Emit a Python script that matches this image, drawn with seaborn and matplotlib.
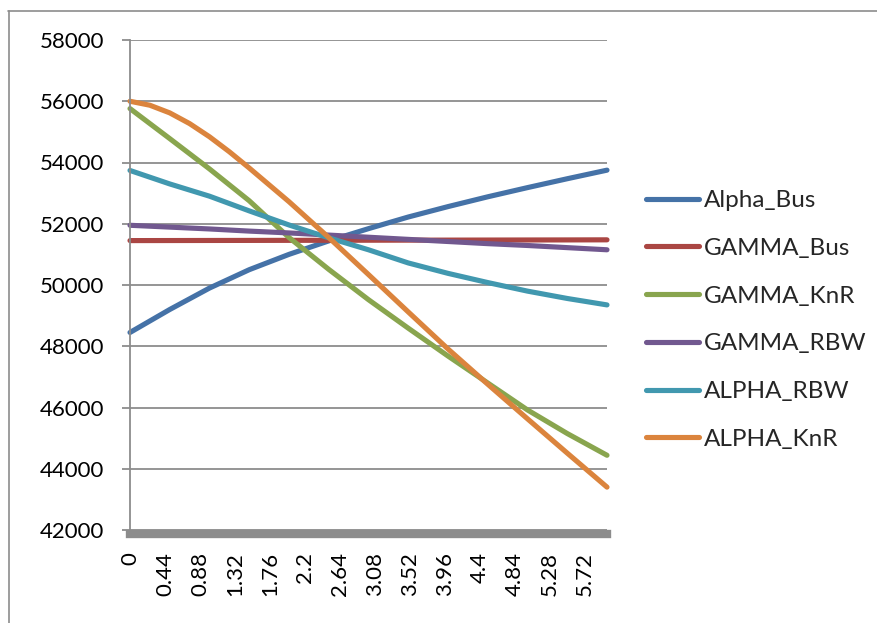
import matplotlib
matplotlib.use("Agg")
import matplotlib.pyplot as plt
import seaborn as sns
import pandas as pd
from matplotlib.lines import Line2D

# ---- data ----
x_values = [0.0, 0.5, 1.0, 1.5, 2.0, 2.5, 3.0, 3.5, 4.0, 4.5, 5.0, 5.5, 6.0]
alpha_bus = [48450, 49200, 49900, 50500, 51000, 51440, 51840, 52220, 52560, 52880, 53180, 53470, 53750]
gamma_bus = [51450, 51452, 51454, 51456, 51458, 51460, 51462, 51464, 51466, 51468, 51470, 51472, 51475]
gamma_knr = [55760, 54780, 53790, 52750, 51550, 50510, 49520, 48590, 47680, 46800, 45920, 45150, 44440]
gamma_rbw = [51950, 51890, 51830, 51760, 51700, 51630, 51560, 51490, 51420, 51350, 51290, 51220, 51150]
alpha_rbw = [53740, 53300, 52900, 52420, 51960, 51540, 51150, 50720, 50380, 50080, 49800, 49560, 49350]
alpha_knr_x = [0.0, 0.25, 0.5, 0.75, 1.0, 1.25, 1.5, 2.0, 2.5, 3.0, 3.5, 4.0, 4.5, 5.0, 5.5, 6.0]
alpha_knr = [56000, 55870, 55620, 55270, 54840, 54350, 53820, 52720, 51550, 50340, 49120, 47910,
             46760, 45630, 44510, 43400]

series_names = ["Alpha_Bus", "GAMMA_Bus", "GAMMA_KnR", "GAMMA_RBW", "ALPHA_RBW", "ALPHA_KnR"]
series_colors = ["#4572A7", "#AA4643", "#89A54E", "#71588F", "#4198AF", "#DB843D"]

x_tick_positions = [0, 0.44, 0.88, 1.32, 1.76, 2.2, 2.64, 3.08, 3.52, 3.96, 4.4, 4.84, 5.28, 5.72]
x_tick_labels = ["0", "0.44", "0.88", "1.32", "1.76", "2.2", "2.64", "3.08", "3.52", "3.96",
                 "4.4", "4.84", "5.28", "5.72"]
y_ticks = [42000, 44000, 46000, 48000, 50000, 52000, 54000, 56000, 58000]

# ---- long-form table ----
all_series = [
    (x_values, alpha_bus), (x_values, gamma_bus), (x_values, gamma_knr),
    (x_values, gamma_rbw), (x_values, alpha_rbw), (alpha_knr_x, alpha_knr),
]
rows = []
for name, (xs, vals) in zip(series_names, all_series):
    for xv, yv in zip(xs, vals):
        rows.append({"x": xv, "value": yv, "series": name})
df = pd.DataFrame(rows)

sns.set_style("white")
plt.rcParams["font.family"] = ["Lato", "DejaVu Sans"]

W, H = 878, 623
fig = plt.figure(figsize=(W / 100, H / 100), dpi=100)
fig.patch.set_facecolor("white")

left, right, top, bottom = 130, 607, 40, 530
ax = fig.add_axes([left / W, 1 - bottom / H, (right - left) / W, (bottom - top) / H])

grid_color = "#8C8C8C"
sns.lineplot(data=df, x="x", y="value", hue="series", hue_order=series_names,
             palette=series_colors, linewidth=3.7, ax=ax, sort=False,
             estimator=None, legend=True)
for ln in ax.get_lines():
    ln.set_solid_capstyle("round")
    ln.set_solid_joinstyle("round")
    ln.set_clip_on(False)

ax.set_xlim(0, 6)
ax.set_ylim(42000, 58000)
ax.set_yticks(y_ticks)
ax.set_yticklabels([str(v) for v in y_ticks])
ax.set_xticks(x_tick_positions)
ax.set_xticklabels(x_tick_labels)
ax.set_xlabel("")
ax.set_ylabel("")

ax.yaxis.grid(True, color=grid_color, linewidth=1.3)
ax.xaxis.grid(False)
ax.set_axisbelow(True)

for s in ["top", "right"]:
    ax.spines[s].set_visible(False)
ax.spines["left"].set_color(grid_color)
ax.spines["left"].set_linewidth(1.3)
ax.spines["bottom"].set_color(grid_color)
ax.spines["bottom"].set_linewidth(6.0)
ax.spines["bottom"].set_position(("outward", 3))
ax.spines["bottom"].set_zorder(1)

ax.tick_params(axis="y", which="both", left=True, length=5.8, width=1.3, color=grid_color,
               pad=13, labelsize=16, labelcolor="black")
ax.tick_params(axis="x", which="both", bottom=False, length=0, pad=13, labelsize=16,
               labelcolor="black", labelrotation=90)
for lbl in ax.get_xticklabels():
    lbl.set_rotation(90)
    lbl.set_va("top")
    lbl.set_ha("center")

# legend
handles, labels = ax.get_legend_handles_labels()
for h in handles:
    h.set_solid_capstyle("round")
    h.set_linewidth(3.7)
leg = ax.legend(handles, labels, loc="center left", bbox_to_anchor=(646 / W, 1 - 320 / H),
                bbox_transform=fig.transFigure, frameon=False, fontsize=17.5,
                handlelength=2.2, handletextpad=0.2, labelspacing=1.1,
                borderpad=0, borderaxespad=0)

# outer chart frame (top and left edges visible)
fig.add_artist(Line2D([8 / W, 1.0], [1 - 10.5 / H, 1 - 10.5 / H], transform=fig.transFigure,
                      color=grid_color, linewidth=1.2))
fig.add_artist(Line2D([8.5 / W, 8.5 / W], [0, 1 - 10.5 / H], transform=fig.transFigure,
                      color=grid_color, linewidth=1.2))

fig.savefig("out.png", dpi=100, facecolor="white")
